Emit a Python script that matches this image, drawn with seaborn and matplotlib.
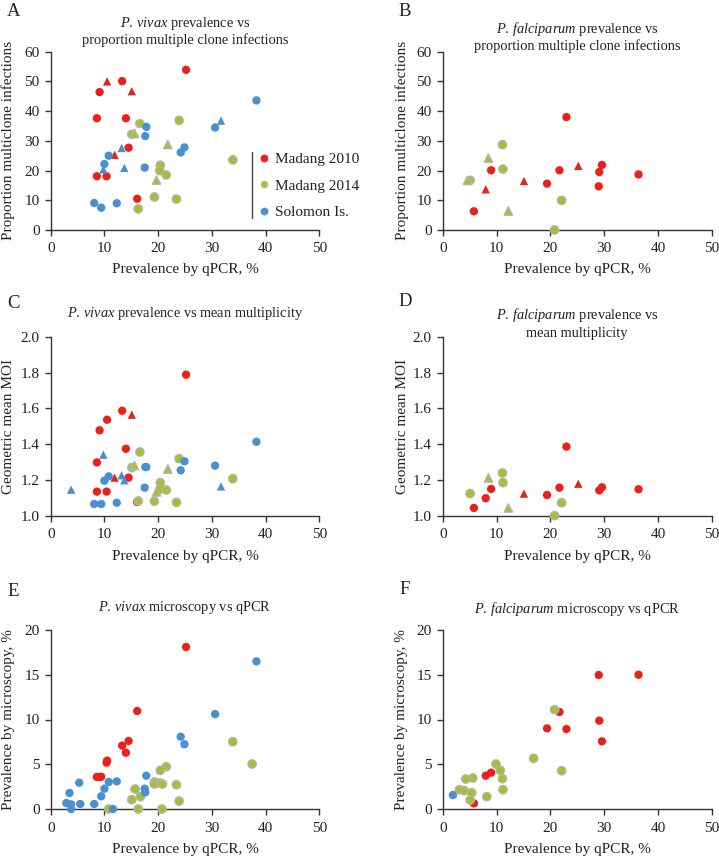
import matplotlib
matplotlib.use("Agg")
import matplotlib.pyplot as plt
import seaborn as sns
import pandas as pd
from matplotlib.lines import Line2D

# ---------------- data ----------------
sites = ["Madang 2010", "Madang 2014", "Solomon Is."]
site_colors = ["#e8221b", "#a6c12a", "#4a8fd1"]
site_edges = ["none", "#b3b3b3", "none"]

x_ticks = [0, 10, 20, 30, 40, 50]
moi_ticks = [1.0, 1.2, 1.4, 1.6, 1.8, 2.0]
moi_tick_labels = ["1.0", "1.2", "1.4", "1.6", "1.8", "2.0"]
prop_ticks = [0, 10, 20, 30, 40, 50, 60]
micro_ticks = [0, 5, 10, 15, 20]

# Panel A: P. vivax prevalence vs proportion multiclone
A_x = [25.2, 9.1, 13.3, 8.6, 14.0, 14.5, 8.6, 10.4, 16.1, 10.5, 15.1, 11.9,
       16.6, 15.1, 23.9, 33.9, 20.4, 20.3, 21.5, 19.3, 23.4, 16.3, 15.6, 21.8, 19.7,
       38.3, 17.8, 17.6, 30.6, 24.9, 24.2, 10.8, 10.0, 17.5, 8.1, 9.4, 12.3, 31.7, 13.2, 9.8, 13.7]
A_y = [53.9, 46.4, 50.1, 37.6, 37.6, 27.7, 18.1, 18.1, 10.5, 50.0, 46.7, 25.3,
       35.8, 32.2, 36.9, 23.6, 21.8, 20.0, 18.5, 11.1, 10.4, 7.1, 32.5, 28.8, 16.8,
       43.6, 34.7, 31.6, 34.5, 27.8, 26.1, 25.0, 22.2, 21.0, 9.1, 7.5, 9.0, 36.8, 27.6, 20.4, 20.9]
A_site = [0] * 12 + [1] * 13 + [2] * 16
A_shape = (["o"] * 9 + ["^"] * 3 + ["o"] * 10 + ["^"] * 3 + ["o"] * 12 + ["^"] * 4)

# Panel B: P. falciparum prevalence vs proportion multiclone
B_x = [5.8, 9.0, 19.4, 21.7, 23.0, 29.0, 29.1, 29.6, 36.4, 8.0, 15.1, 25.2,
       5.1, 11.1, 11.2, 22.1, 20.8, 4.6, 8.5, 12.2]
B_y = [6.3, 20.1, 15.6, 20.1, 38.0, 14.7, 19.5, 21.9, 18.7, 13.7, 16.5, 21.6,
       16.7, 28.7, 20.5, 10.0, 0.0, 16.7, 24.2, 6.4]
B_site = [0] * 12 + [1] * 8
B_shape = ["o"] * 9 + ["^"] * 3 + ["o"] * 5 + ["^"] * 3

# Panel C: P. vivax prevalence vs geometric mean MOI
C_x = [25.2, 13.3, 10.5, 9.1, 14.0, 8.6, 14.5, 8.6, 10.4, 16.1, 15.1, 11.9,
       16.6, 15.1, 23.9, 33.9, 20.4, 20.3, 21.5, 19.3, 23.4, 16.3, 15.6, 21.8, 19.7,
       38.3, 17.8, 17.6, 30.6, 24.9, 24.2, 10.8, 10.0, 17.5, 8.1, 9.4, 12.3,
       3.8, 31.7, 13.2, 9.8, 13.7]
C_y = [1.788, 1.587, 1.537, 1.478, 1.375, 1.299, 1.214, 1.136, 1.136, 1.078, 1.565, 1.214,
       1.357, 1.270, 1.320, 1.208, 1.186, 1.149, 1.145, 1.082, 1.076, 1.084, 1.281, 1.262, 1.134,
       1.414, 1.273, 1.273, 1.281, 1.305, 1.255, 1.221, 1.197, 1.158, 1.067, 1.067, 1.074,
       1.147, 1.165, 1.227, 1.342, 1.199]
C_site = [0] * 12 + [1] * 13 + [2] * 17
C_shape = (["o"] * 10 + ["^"] * 2 + ["o"] * 10 + ["^"] * 3 + ["o"] * 12 + ["^"] * 5)

# Panel D: P. falciparum prevalence vs geometric mean MOI
D_x = [5.8, 9.0, 8.0, 19.4, 21.7, 23.0, 29.1, 29.6, 36.4, 15.1, 25.2,
       5.1, 11.1, 11.2, 22.1, 20.8, 8.5, 12.2]
D_y = [1.045, 1.151, 1.099, 1.117, 1.158, 1.387, 1.143, 1.160, 1.149, 1.125, 1.180,
       1.125, 1.240, 1.186, 1.074, 1.002, 1.212, 1.045]
D_site = [0] * 11 + [1] * 7
D_shape = ["o"] * 9 + ["^"] * 2 + ["o"] * 5 + ["^"] * 2

# Panel E: P. vivax microscopy vs qPCR
E_x = [25.2, 16.1, 14.5, 13.3, 14.0, 10.5, 10.4, 8.6, 9.1, 9.4,
       33.9, 37.5, 21.5, 20.4, 19.3, 19.3, 20.4, 20.8, 23.4, 15.7, 16.7, 15.1, 23.9, 10.8, 16.3, 20.7,
       38.3, 30.6, 24.2, 24.9, 17.8, 17.5, 17.6, 12.3, 10.8, 10.0, 9.4, 5.3, 3.5, 2.9, 3.8, 3.8, 5.5, 8.1, 11.6]
E_y = [18.1, 10.95, 7.6, 7.08, 6.29, 5.4, 5.18, 3.58, 3.58, 3.6,
       7.52, 5.03, 4.73, 4.32, 3.02, 2.79, 2.90, 2.79, 2.72, 2.23, 1.38, 1.04, 0.89, 0.0, 0.0, 0.0,
       16.5, 10.6, 8.08, 7.23, 3.72, 2.27, 1.86, 3.09, 3.02, 2.27, 1.42, 2.94, 1.79, 0.67, 0.52, 0.0, 0.56, 0.56, 0.0]
E_site = [0] * 10 + [1] * 16 + [2] * 19
E_shape = ["o"] * 45

# Panel F: P. falciparum microscopy vs qPCR
F_x = [36.4, 29.0, 21.7, 19.4, 23.0, 29.1, 29.6, 9.0, 8.0, 5.8,
       20.8, 16.9, 9.9, 10.7, 22.1, 11.1, 4.3, 5.6, 11.2, 3.1, 4.0, 5.4, 5.1, 8.2,
       1.9]
F_y = [15.0, 14.97, 10.84, 9.01, 8.94, 9.87, 7.56, 4.06, 3.72, 0.63,
       11.1, 5.66, 5.03, 4.32, 4.28, 3.39, 3.35, 3.46, 2.16, 2.16, 2.05, 1.82, 1.0, 1.38,
       1.56]
F_site = [0] * 10 + [1] * 14 + [2] * 1
F_shape = ["o"] * 25

# ---------------- style ----------------
sns.set_theme(style="ticks")
plt.rcParams["font.family"] = ["Liberation Serif", "DejaVu Serif"]
plt.rcParams["mathtext.fontset"] = "custom"
plt.rcParams["mathtext.rm"] = "Liberation Serif"
plt.rcParams["mathtext.it"] = "Liberation Serif:italic"
plt.rcParams["axes.edgecolor"] = "#333333"
plt.rcParams["axes.linewidth"] = 1.0
plt.rcParams["xtick.color"] = "#333333"
plt.rcParams["ytick.color"] = "#333333"
plt.rcParams["xtick.labelcolor"] = "#222222"
plt.rcParams["ytick.labelcolor"] = "#222222"

W, H = 719, 857
fig = plt.figure(figsize=(W / 100, H / 100), dpi=100)


def ax_at(left, top, right, bottom):
    return fig.add_axes([left / W, 1 - bottom / H, (right - left) / W, (bottom - top) / H])


def draw(ax, xs, ys, site, shape):
    df = pd.DataFrame({"x": xs, "y": ys, "site": site, "shape": shape})
    for i in range(3):
        sub = df[df["site"] == i]
        if sub.empty:
            continue
        sns.scatterplot(data=sub, x="x", y="y", style="shape",
                        markers={"o": "o", "^": "^"}, color=site_colors[i],
                        edgecolor=site_edges[i], linewidth=1.0 if i == 1 else 0,
                        s=36, legend=False, ax=ax, zorder=3)


def finish(ax, yticks, ylabels, ylim, ylab, label_x):
    ax.set_xlim(0, 50)
    ax.set_ylim(*ylim)
    ax.set_xticks(x_ticks)
    ax.set_xticklabels([str(t) for t in x_ticks])
    ax.set_yticks(yticks)
    ax.set_yticklabels(ylabels)
    ax.tick_params(axis="both", direction="out", length=4, width=1, labelsize=11)
    ax.tick_params(axis="x", pad=5)
    ax.tick_params(axis="y", pad=4)
    ax.set_xlabel("Prevalence by qPCR, %", fontsize=11, color="#222222", va="center")
    ax.set_ylabel(ylab, fontsize=11, color="#222222", va="center")
    ax.xaxis.set_label_coords(0.5, -40 / 178.3)
    ax.yaxis.set_label_coords(label_x, 0.5)
    for sp in ["top", "right"]:
        ax.spines[sp].set_visible(False)
    for c in ax.collections:
        c.set_clip_on(False)


def title(ax, lines_y, lines):
    pos = ax.get_position()
    for yy, txt in zip(lines_y, lines):
        fig.text((pos.x0 + pos.x1) / 2, 1 - yy / H, txt,
                 ha="center", va="center", fontsize=10.4, color="#222222")


prop_labels = [str(t) for t in prop_ticks]
micro_labels = [str(t) for t in micro_ticks]

axA = ax_at(50.7, 51.7, 319.3, 230)
axB = ax_at(442.7, 51.7, 711.7, 230)
axC = ax_at(50.7, 336.7, 319.3, 516)
axD = ax_at(442.7, 336.7, 711.7, 516)
axE = ax_at(50.7, 630, 319.3, 809)
axF = ax_at(442.7, 630, 711.7, 809)

draw(axA, A_x, A_y, A_site, A_shape)
draw(axB, B_x, B_y, B_site, B_shape)
draw(axC, C_x, C_y, C_site, C_shape)
draw(axD, D_x, D_y, D_site, D_shape)
draw(axE, E_x, E_y, E_site, E_shape)
draw(axF, F_x, F_y, F_site, F_shape)

LX_L = (8.5 - 50.7) / 268.6
LX_R = (402 - 442.7) / 269.0
finish(axA, prop_ticks, prop_labels, (0, 60), "Proportion multiclone infections", LX_L)
finish(axB, prop_ticks, prop_labels, (0, 60), "Proportion multiclone infections", LX_R)
finish(axC, moi_ticks, moi_tick_labels, (1.0, 2.0), "Geometric mean MOI", LX_L)
finish(axD, moi_ticks, moi_tick_labels, (1.0, 2.0), "Geometric mean MOI", LX_R)
finish(axE, micro_ticks, micro_labels, (0, 20), "Prevalence by microscopy, %", LX_L)
finish(axF, micro_ticks, micro_labels, (0, 20), "Prevalence by microscopy, %", LX_R)

title(axA, [23, 40], [r"$\it{P.\,vivax}$ prevalence vs", "proportion multiple clone infections"])
title(axB, [28.5, 46], [r"$\it{P.\,falciparum}$ prevalence vs", "proportion multiple clone infections"])
title(axC, [314], [r"$\it{P.\,vivax}$ prevalence vs mean multiplicity"])
title(axD, [315, 333], [r"$\it{P.\,falciparum}$ prevalence vs", "mean multiplicity"])
title(axE, [607], [r"$\it{P.\,vivax}$ microscopy vs qPCR"])
title(axF, [609], [r"$\it{P.\,falciparum}$ microscopy vs qPCR"])

for letter, (lx, ly) in zip("ABCDEF", [(7, 12), (398, 11), (7, 303), (398, 302), (7, 592), (399, 590)]):
    fig.text(lx / W, 1 - ly / H, letter, ha="left", va="center", fontsize=13.5, color="#222222")

# legend in panel A
handles = [Line2D([], [], marker="o", linestyle="none", markersize=5,
                  markerfacecolor=site_colors[i], markeredgecolor=site_colors[i] if i != 1 else "#c0c0c0",
                  markeredgewidth=0.6)
           for i in range(3)]
leg = axA.legend(handles, sites, loc="upper left", bbox_to_anchor=(0.777, 0.435),
                 frameon=False, fontsize=11, handlelength=0.6, handletextpad=0.45,
                 labelspacing=0.85, borderpad=0, borderaxespad=0)
for t in leg.get_texts():
    t.set_color("#222222")
axA.add_line(Line2D([0.751, 0.751], [0.07, 0.437], transform=axA.transAxes,
                    color="#444444", linewidth=1.0, clip_on=False))

fig.savefig("out.png", dpi=100)
